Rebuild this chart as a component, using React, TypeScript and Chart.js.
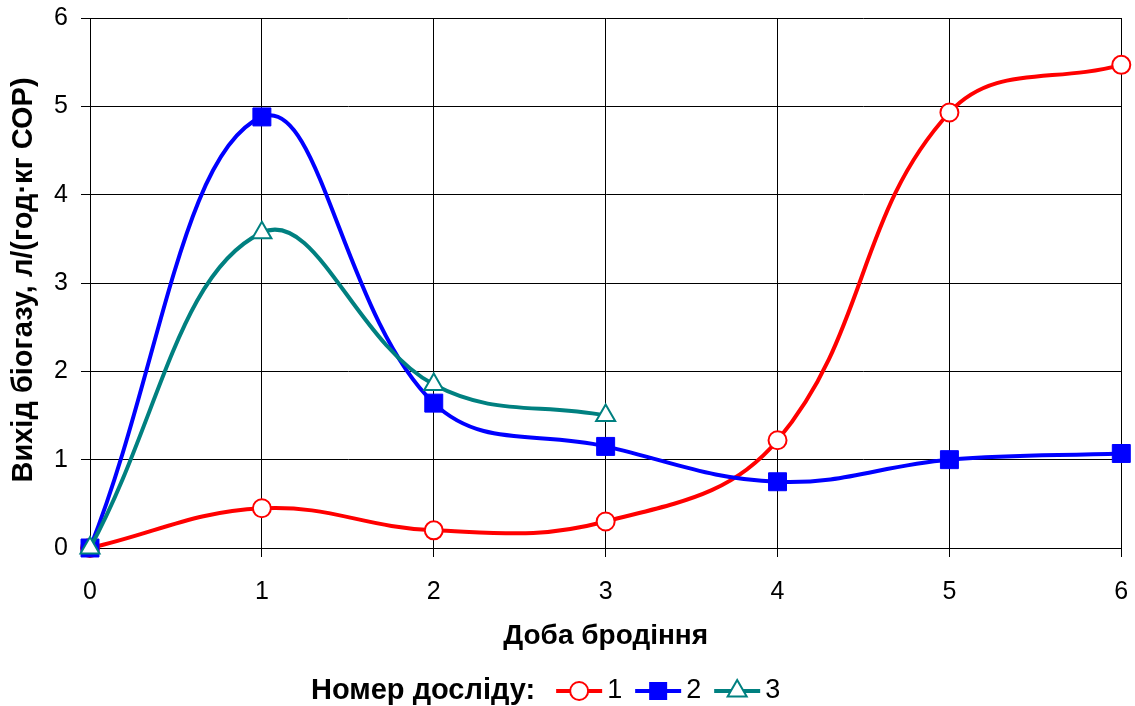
import React, { useEffect, useRef } from 'react';
import { Chart, registerables } from 'chart.js';

Chart.register(...registerables);

const days = ['0', '1', '2', '3', '4', '5', '6'];
const series1 = [0, 0.45, 0.2, 0.3, 1.22, 4.93, 5.47];
const series2 = [0, 4.88, 1.64, 1.15, 0.75, 1.0, 1.07];
const series3 = [0, 3.57, 1.85, 1.5];
const seriesLabels = ['1', '2', '3'];
const seriesColors = ['#FF0000', '#0000FF', '#008080'];
const xTitle = 'Доба бродіння';
const yTitle = 'Вихід біогазу, л/(год·кг СОР)';
const legendTitle = 'Номер досліду:';

const FONT = '"Liberation Sans", Arial, Helvetica, sans-serif';

function drawMarker(ctx: CanvasRenderingContext2D, i: number, x: number, y: number) {
  ctx.save();
  if (i === 0) {
    ctx.beginPath();
    ctx.arc(x, y, 9, 0, Math.PI * 2);
    ctx.fillStyle = '#fff';
    ctx.fill();
    ctx.lineWidth = 2;
    ctx.strokeStyle = seriesColors[0];
    ctx.stroke();
  } else if (i === 1) {
    ctx.fillStyle = seriesColors[1];
    ctx.fillRect(x - 9, y - 9, 18, 18);
  } else {
    const r = 11;
    ctx.beginPath();
    ctx.moveTo(x, y - r);
    ctx.lineTo(x + r * Math.sin((2 * Math.PI) / 3), y - r * Math.cos((2 * Math.PI) / 3));
    ctx.lineTo(x + r * Math.sin((4 * Math.PI) / 3), y - r * Math.cos((4 * Math.PI) / 3));
    ctx.closePath();
    ctx.fillStyle = '#fff';
    ctx.fill();
    ctx.lineWidth = 2;
    ctx.strokeStyle = seriesColors[2];
    ctx.stroke();
  }
  ctx.restore();
}

export default function App() {
  const ref = useRef<HTMLCanvasElement>(null);

  useEffect(() => {
    if (!ref.current) return;

    const textPlugin = {
      id: 'customText',
      afterDraw(chart: any) {
        const ctx: CanvasRenderingContext2D = chart.ctx;
        // Y axis title
        ctx.save();
        ctx.translate(24, 280);
        ctx.rotate(-Math.PI / 2);
        ctx.font = `bold 29px ${FONT}`;
        ctx.textAlign = 'center';
        ctx.textBaseline = 'middle';
        ctx.fillStyle = '#000';
        ctx.fillText(yTitle, 0, 0);
        ctx.restore();

        // Legend
        ctx.save();
        const ly = 691;
        let x = 311;
        ctx.fillStyle = '#000';
        ctx.textBaseline = 'middle';
        ctx.textAlign = 'left';
        ctx.font = `bold 29px ${FONT}`;
        ctx.fillText(legendTitle, x, ly);
        x += ctx.measureText(legendTitle).width + 21;
        ctx.font = `27px ${FONT}`;
        seriesLabels.forEach((lab, i) => {
          ctx.beginPath();
          ctx.moveTo(x, ly);
          ctx.lineTo(x + 46, ly);
          ctx.lineWidth = 4;
          ctx.strokeStyle = seriesColors[i];
          ctx.stroke();
          drawMarker(ctx, i, x + 23, ly);
          ctx.fillStyle = '#000';
          ctx.fillText(lab, x + 51, ly);
          x += 51 + ctx.measureText(lab).width + 13;
        });
        ctx.restore();
      },
    };

    const common = {
      borderWidth: 4,
      tension: 0.4,
      fill: false,
      clip: false as any,
    };

    const zeroPad = (s: any) => {
      s.paddingTop = 0;
      s.paddingBottom = 0;
      s.paddingLeft = 0;
      s.paddingRight = 0;
    };

    const chart = new Chart(ref.current, {
      type: 'line',
      data: {
        labels: days,
        datasets: [
          {
            ...common,
            label: seriesLabels[0],
            data: series1,
            borderColor: seriesColors[0],
            pointStyle: 'circle',
            pointRadius: 9,
            pointBackgroundColor: '#fff',
            pointBorderColor: seriesColors[0],
            pointBorderWidth: 2,
            order: 3,
          },
          {
            ...common,
            label: seriesLabels[1],
            data: series2,
            borderColor: seriesColors[1],
            pointStyle: 'rect',
            pointRadius: 12.7,
            pointBackgroundColor: seriesColors[1],
            pointBorderColor: seriesColors[1],
            pointBorderWidth: 1,
            order: 2,
          },
          {
            ...common,
            label: seriesLabels[2],
            data: series3,
            borderColor: seriesColors[2],
            pointStyle: 'triangle',
            pointRadius: 11,
            pointBackgroundColor: '#fff',
            pointBorderColor: seriesColors[2],
            pointBorderWidth: 2,
            order: 1,
          },
        ],
      },
      options: {
        responsive: false,
        animation: false,
        devicePixelRatio: 1,
        layout: { padding: { left: 0, top: 18, right: 12, bottom: 0 } },
        plugins: {
          legend: { display: false },
          tooltip: { enabled: false },
        },
        scales: {
          x: {
            offset: false,
            grid: { color: '#000', lineWidth: 1, tickLength: 9, drawTicks: true },
            border: { color: '#000', width: 1 },
            ticks: { color: '#000', font: { family: FONT, size: 25 }, padding: 20, maxRotation: 0 },
            title: {
              display: true,
              text: xTitle,
              color: '#000',
              font: { family: FONT, size: 28, weight: 'bold' },
              padding: { top: 0, bottom: 53 },
            },
            afterFit: (s: any) => {
              s.height = 158;
              zeroPad(s);
            },
          },
          y: {
            min: 0,
            max: 6,
            grid: { color: '#000', lineWidth: 1, tickLength: 9, drawTicks: true },
            border: { color: '#000', width: 1 },
            ticks: { color: '#000', stepSize: 1, font: { family: FONT, size: 25 }, padding: 13 },
            afterFit: (s: any) => {
              s.width = 90;
              zeroPad(s);
            },
          },
        },
      },
      plugins: [textPlugin],
    });

    return () => chart.destroy();
  }, []);

  return (
    <div style={{ position: 'fixed', left: 0, top: 0, width: 1135, height: 706, background: '#fff' }}>
      <canvas ref={ref} width={1135} height={706} style={{ display: 'block' }} />
    </div>
  );
}
